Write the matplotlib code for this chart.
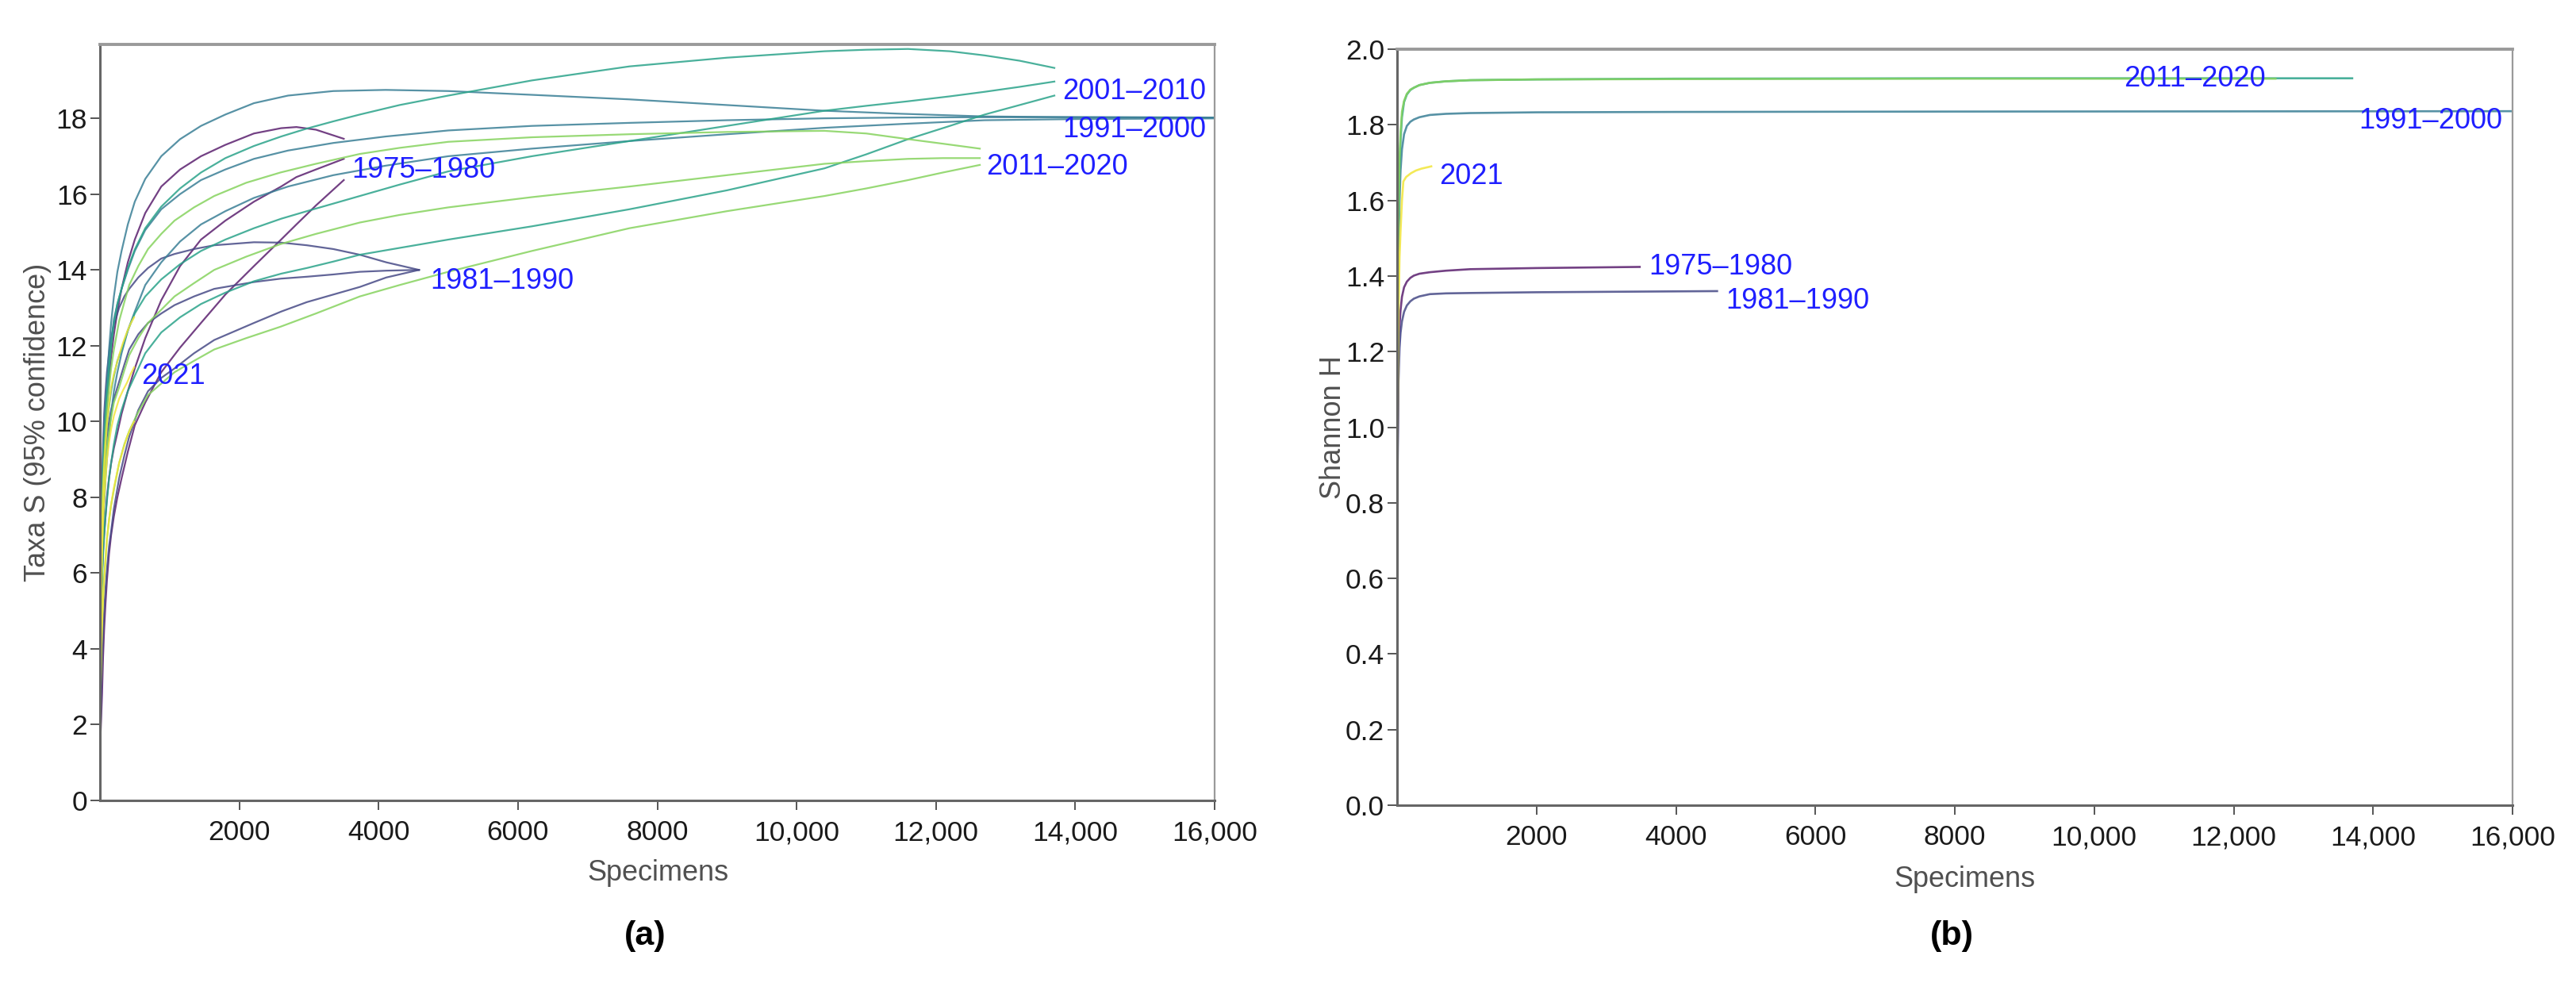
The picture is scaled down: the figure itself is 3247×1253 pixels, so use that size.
import matplotlib
matplotlib.use("Agg")
import matplotlib.pyplot as plt

plt.rcParams["font.family"] = ["Liberation Sans", "DejaVu Sans"]

periods = ["1975–1980", "1981–1990", "1991–2000", "2001–2010", "2011–2020", "2021"]
colors = ["#5a1f6e", "#474a86", "#3a7f96", "#2aa38a", "#86d35e", "#f2e63a"]

# ---- (a) rarefaction, Taxa S with 95% confidence (lower, mid, upper) ----
n_1975 = [1, 5, 10, 20, 30, 45, 60, 80, 100, 130, 160, 200, 250, 310, 400, 500, 650, 880,
          1150, 1450, 1800, 2210, 2600, 2820, 3100, 3500]
up_1975 = [1, 3.0, 4.6, 6.2, 7.2, 8.2, 9.0, 9.8, 10.4, 11.1, 11.7, 12.3, 12.9, 13.5, 14.2, 14.8,
           15.5, 16.2, 16.65, 17.0, 17.3, 17.6, 17.74, 17.77, 17.7, 17.46]
mid_1975 = [1, 2.6, 3.8, 5.2, 6.0, 6.6, 7.0, 7.5, 8.0, 8.5, 8.9, 9.3, 9.7, 10.2, 10.8, 11.4,
            12.2, 13.2, 14.1, 14.8, 15.3, 15.8, 16.2, 16.45, 16.65, 16.93]
lo_1975 = [1, 1.4, 1.8, 2.3, 2.8, 3.8, 4.5, 5.2, 5.8, 6.5, 7.0, 7.5, 8.0, 8.5, 9.2, 9.9,
           10.5, 11.3, 11.95, 12.6, 13.35, 14.1, 14.8, 15.2, 15.7, 16.37]

n_1981 = [1, 5, 10, 20, 30, 45, 60, 80, 100, 130, 160, 200, 275, 350, 420, 550, 690, 880,
          1070, 1350, 1640, 2210, 2600, 2970, 3350, 3730, 4110, 4580]
up_1981 = [1, 3.2, 5.0, 7.0, 8.2, 9.4, 10.2, 10.8, 11.3, 11.8, 12.2, 12.55, 13.0, 13.3, 13.5,
           13.8, 14.05, 14.3, 14.42, 14.55, 14.65, 14.73, 14.72, 14.65, 14.55, 14.4, 14.2, 14.0]
mid_1981 = [1, 2.8, 4.2, 5.8, 6.8, 7.8, 8.6, 9.2, 9.6, 10.0, 10.3, 10.6, 11.05, 11.5, 11.9,
            12.3, 12.6, 12.85, 13.07, 13.3, 13.5, 13.68, 13.77, 13.82, 13.88, 13.95, 13.98, 14.0]
lo_1981 = [1, 1.5, 2.0, 3.0, 3.7, 4.4, 5.0, 5.6, 6.1, 6.7, 7.1, 7.7, 8.5, 9.1, 9.6,
           10.3, 10.8, 11.15, 11.4, 11.8, 12.15, 12.6, 12.9, 13.15, 13.35, 13.55, 13.8, 14.0]

n_1991 = [1, 5, 10, 20, 30, 45, 60, 80, 100, 130, 160, 200, 250, 310, 400, 500, 650, 880,
          1150, 1450, 1800, 2210, 2700, 3350, 4100, 5000, 6200, 7600, 9000, 10400, 11500,
          12700, 14000, 16300]
up_1991 = [1, 3.5, 5.5, 7.2, 8.2, 9.1, 9.8, 10.5, 11.05, 11.9, 12.6, 13.3, 13.95, 14.5, 15.2,
           15.8, 16.4, 17.0, 17.45, 17.8, 18.1, 18.4, 18.6, 18.72, 18.75, 18.72, 18.62, 18.5,
           18.35, 18.2, 18.12, 18.05, 18.03, 18.02]
mid_1991 = [1, 3.2, 5.0, 6.6, 7.6, 8.6, 9.3, 10.0, 10.6, 11.4, 12.1, 12.7, 13.1, 13.5, 14.0,
            14.5, 15.05, 15.6, 16.0, 16.37, 16.65, 16.93, 17.15, 17.35, 17.52, 17.68, 17.8,
            17.88, 17.95, 18.0, 18.02, 18.03, 18.03, 18.02]
lo_1991 = [1, 2.4, 3.5, 5.0, 6.0, 7.1, 7.8, 8.5, 9.0, 9.7, 10.2, 10.8, 11.3, 11.8, 12.4,
           12.9, 13.6, 14.2, 14.75, 15.2, 15.55, 15.9, 16.2, 16.5, 16.75, 17.0, 17.2, 17.4,
           17.58, 17.75, 17.85, 17.95, 17.98, 18.0]

n_2001 = [1, 5, 10, 20, 30, 45, 60, 80, 100, 130, 160, 200, 250, 310, 400, 500, 650, 880,
          1150, 1450, 1800, 2210, 2600, 2970, 3350, 3730, 4300, 5000, 6200, 7600, 9000,
          10400, 11000, 11600, 12200, 12700, 13200, 13700]
up_2001 = [1, 3.0, 4.8, 6.6, 7.6, 8.7, 9.4, 10.1, 10.7, 11.4, 12.0, 12.6, 13.1, 13.5, 14.05,
           14.54, 15.1, 15.67, 16.15, 16.57, 16.95, 17.27, 17.52, 17.73, 17.92, 18.1, 18.35,
           18.6, 19.0, 19.37, 19.6, 19.77, 19.81, 19.83, 19.77, 19.66, 19.52, 19.33]
mid_2001 = [1, 2.8, 4.4, 6.0, 7.0, 8.1, 8.8, 9.4, 9.9, 10.4, 10.8, 11.2, 11.6, 11.9, 12.4,
            12.85, 13.3, 13.75, 14.15, 14.5, 14.8, 15.1, 15.35, 15.55, 15.75, 15.95, 16.25,
            16.6, 17.0, 17.4, 17.8, 18.2, 18.33, 18.45, 18.58, 18.7, 18.83, 18.97]
lo_2001 = [1, 2.5, 3.8, 5.0, 5.8, 6.5, 7.0, 7.5, 7.9, 8.5, 8.9, 9.4, 9.9, 10.3, 10.8,
           11.2, 11.8, 12.35, 12.75, 13.1, 13.4, 13.7, 13.9, 14.05, 14.22, 14.4, 14.58,
           14.8, 15.15, 15.6, 16.1, 16.68, 17.05, 17.45, 17.8, 18.1, 18.35, 18.6]

n_2011 = [1, 5, 10, 20, 30, 45, 60, 80, 100, 130, 160, 200, 275, 350, 420, 550, 690, 880,
          1070, 1350, 1640, 2100, 2590, 3100, 3730, 4300, 5000, 6200, 7600, 9000, 10400,
          11000, 11600, 12100, 12630]
up_2011 = [1, 2.9, 4.6, 6.3, 7.3, 8.3, 9.0, 9.7, 10.3, 10.9, 11.4, 11.9, 12.65, 13.15, 13.6,
           14.1, 14.55, 14.95, 15.3, 15.65, 15.95, 16.3, 16.57, 16.8, 17.06, 17.22, 17.38,
           17.5, 17.58, 17.64, 17.67, 17.6, 17.45, 17.33, 17.2]
mid_2011 = [1, 2.7, 4.2, 5.6, 6.6, 7.5, 8.2, 8.8, 9.3, 9.7, 10.1, 10.5, 10.9, 11.35, 11.75,
            12.2, 12.6, 12.95, 13.3, 13.65, 14.0, 14.35, 14.68, 14.95, 15.25, 15.45, 15.65,
            15.92, 16.2, 16.5, 16.8, 16.87, 16.93, 16.95, 16.95]
lo_2011 = [1, 2.1, 3.0, 4.0, 4.8, 5.4, 5.9, 6.4, 6.9, 7.4, 7.8, 8.2, 8.9, 9.4, 9.75,
           10.25, 10.7, 11.0, 11.3, 11.6, 11.9, 12.2, 12.5, 12.85, 13.3, 13.6, 13.95,
           14.5, 15.1, 15.55, 15.95, 16.15, 16.37, 16.57, 16.77]

n_2021 = [1, 5, 10, 20, 30, 45, 60, 80, 100, 130, 160, 200, 275, 330, 390, 440, 490]
up_2021 = [1, 2.9, 4.5, 6.2, 7.2, 8.2, 8.8, 9.4, 9.9, 10.45, 10.9, 11.25, 11.75, 12.07,
           12.37, 12.58, 12.75]
mid_2021 = [1, 2.6, 4.0, 5.5, 6.5, 7.4, 8.0, 8.5, 9.0, 9.45, 9.8, 10.15, 10.6, 10.82,
            11.03, 11.25, 11.43]
lo_2021 = [1, 2.1, 3.0, 4.0, 4.6, 5.3, 5.8, 6.3, 6.9, 7.4, 7.8, 8.25, 8.9, 9.25, 9.6,
           9.82, 10.0]

# ---- (b) Shannon H ----
hn_1975 = [1, 3, 8, 20, 35, 50, 70, 100, 140, 190, 240, 320, 470, 700, 1050, 2000, 3480]
h_1975 = [0, 0.55, 0.95, 1.18, 1.27, 1.31, 1.345, 1.37, 1.385, 1.395, 1.401, 1.406, 1.41,
          1.414, 1.418, 1.421, 1.424]
hn_1981 = [1, 3, 8, 20, 35, 50, 70, 100, 140, 190, 240, 320, 470, 700, 1050, 2000, 4590]
h_1981 = [0, 0.5, 0.9, 1.12, 1.21, 1.25, 1.28, 1.305, 1.322, 1.333, 1.34, 1.346, 1.352,
          1.354, 1.355, 1.357, 1.36]
hn_1991 = [1, 3, 8, 20, 35, 50, 70, 100, 140, 190, 240, 320, 470, 700, 1050, 2000, 4000,
           8000, 16300]
h_1991 = [0, 0.65, 1.15, 1.45, 1.6, 1.68, 1.735, 1.775, 1.797, 1.808, 1.814, 1.82, 1.826,
          1.829, 1.831, 1.833, 1.834, 1.835, 1.836]
hn_2001 = [1, 3, 8, 20, 35, 50, 70, 100, 140, 190, 240, 320, 470, 700, 1050, 2000, 4000,
           8000, 13700]
h_2001 = [0, 0.68, 1.2, 1.52, 1.68, 1.76, 1.82, 1.86, 1.88, 1.892, 1.898, 1.905, 1.911,
          1.915, 1.918, 1.92, 1.922, 1.923, 1.923]
hn_2011 = [1, 3, 8, 20, 35, 50, 70, 100, 140, 190, 240, 320, 470, 700, 1050, 2000, 4000,
           8000, 12600]
h_2011 = [0, 0.7, 1.22, 1.55, 1.71, 1.78, 1.835, 1.863, 1.882, 1.893, 1.898, 1.905, 1.911,
          1.915, 1.918, 1.92, 1.921, 1.922, 1.922]
hn_2021 = [1, 3, 8, 20, 35, 50, 70, 90, 130, 200, 270, 350, 420, 490]
h_2021 = [0, 0.6, 1.0, 1.3, 1.45, 1.52, 1.6, 1.65, 1.662, 1.672, 1.679, 1.684, 1.687, 1.69]

# label placement (left edge, vertical centre) in data units
lab_a = [(3614, 16.64), (4740, 13.7), (13820, 17.7), (13820, 18.7), (12720, 16.72), (593, 11.18)]
lab_b = [(3610, 1.424), (4710, 1.334), (13790, 1.81), None, (10420, 1.921), (600, 1.663)]

rich = [
    (n_1975, lo_1975, mid_1975, up_1975),
    (n_1981, lo_1981, mid_1981, up_1981),
    (n_1991, lo_1991, mid_1991, up_1991),
    (n_2001, lo_2001, mid_2001, up_2001),
    (n_2011, lo_2011, mid_2011, up_2011),
    (n_2021, lo_2021, mid_2021, up_2021),
]
shannon = [(hn_1975, h_1975), (hn_1981, h_1981), (hn_1991, h_1991),
           (hn_2001, h_2001), (hn_2011, h_2011), (hn_2021, h_2021)]

W, H = 3247, 1253
fig = plt.figure(figsize=(W / 100, H / 100), dpi=100)
ax_a = fig.add_axes([126 / W, 1 - 1009 / H, 1405 / W, 953 / H])
ax_b = fig.add_axes([1761 / W, 1 - 1015 / H, 1406 / W, 953 / H])

for c, (n, lo, mid, up) in zip(colors, rich):
    for s in (lo, mid, up):
        ax_a.plot(n, s, color=c, lw=1.6, alpha=0.85, solid_joinstyle="round")

for c, (n, h) in zip(colors, shannon):
    ax_b.plot(n, h, color=c, lw=1.9, alpha=0.85, solid_joinstyle="round")

for name, pos in zip(periods, lab_a):
    ax_a.text(pos[0], pos[1], name, color="#1f1fff", fontsize=26, ha="left", va="center")
for name, pos in zip(periods, lab_b):
    if pos is not None:
        ax_b.text(pos[0], pos[1], name, color="#1f1fff", fontsize=26, ha="left", va="center")

xt = [2000, 4000, 6000, 8000, 10000, 12000, 14000, 16000]
xt_lab = ["2000", "4000", "6000", "8000", "10,000", "12,000", "14,000", "16,000"]

for ax in (ax_a, ax_b):
    ax.set_xlim(0, 16000)
    ax.set_xticks(xt)
    ax.set_xticklabels(xt_lab)
    ax.tick_params(axis="both", direction="out", length=8.5, width=1.4, colors="#555555",
                   labelcolor="#1a1a1a", labelsize=25.5)
    ax.tick_params(axis="x", pad=9)
    ax.tick_params(axis="y", pad=3)
    for side in ("left", "bottom"):
        ax.spines[side].set_color("#666666")
        ax.spines[side].set_linewidth(2.2)
    ax.spines["top"].set_color("#9a9a9a")
    ax.spines["top"].set_linewidth(2.8)
    ax.spines["right"].set_color("#9a9a9a")
    ax.spines["right"].set_linewidth(1.6)

ax_a.set_ylim(0, 19.95)
ax_a.set_yticks(range(0, 19, 2))
ax_b.set_ylim(0, 2.0)
ax_b.set_yticks([i / 10 for i in range(0, 21, 2)])
ax_b.set_yticklabels([f"{i / 10:.1f}" for i in range(0, 21, 2)])

ax_a.text(-0.0562, 0.5, "Taxa S (95% confidence)", transform=ax_a.transAxes, rotation=90,
          ha="center", va="center", fontsize=26, color="#505050")
ax_b.text(-0.0576, 0.5, "Shannon H", transform=ax_b.transAxes, rotation=90,
          ha="center", va="center", fontsize=26, color="#505050")
ax_a.text(0.501, -0.0965, "Specimens", transform=ax_a.transAxes, ha="center", va="center",
          fontsize=26, color="#505050")
ax_b.text(0.509, -0.0986, "Specimens", transform=ax_b.transAxes, ha="center", va="center",
          fontsize=26, color="#505050")

fig.text(813 / W, 1 - 1180 / H, "(a)", ha="center", va="center", fontsize=31, fontweight="bold")
fig.text(2460 / W, 1 - 1180 / H, "(b)", ha="center", va="center", fontsize=31, fontweight="bold")

fig.savefig("out.png", dpi=100)
